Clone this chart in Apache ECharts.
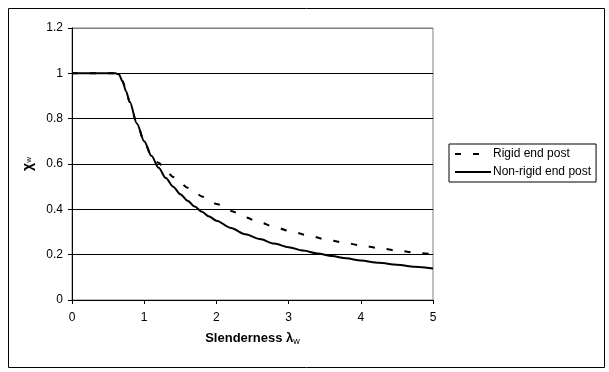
<!DOCTYPE html>
<html><head><meta charset="utf-8">
<script src="https://cdn.jsdelivr.net/npm/echarts@6/dist/echarts.min.js"></script>
<style>html,body{margin:0;padding:0;background:#fff}#c{width:609px;height:372px}</style>
</head><body><div id="c"></div>
<script>
// Non-rigid end post (solid)
var lambdaNR = [0, 0.5, 0.6, 0.65, 0.7, 0.75, 0.8, 0.9, 1.0, 1.1, 1.2, 1.3, 1.4, 1.5, 1.6, 1.7, 1.8, 1.9, 2.0, 2.2, 2.4, 2.6, 2.8, 3.0, 3.2, 3.4, 3.6, 3.8, 4.0, 4.25, 4.5, 4.75, 5.0];
var chiNR    = [1, 1, 1, 0.995, 0.965, 0.92, 0.873, 0.778, 0.70, 0.636, 0.583, 0.538, 0.50, 0.467, 0.438, 0.412, 0.389, 0.368, 0.35, 0.318, 0.29, 0.269, 0.249, 0.233, 0.218, 0.205, 0.194, 0.184, 0.174, 0.164, 0.156, 0.147, 0.139];
// Rigid end post (dashed)
var lambdaR = [0, 0.5, 0.6, 0.65, 0.7, 0.75, 0.8, 0.9, 1.0, 1.1, 1.2, 1.3, 1.4, 1.5, 1.6, 1.7, 1.8, 1.9, 2.0, 2.2, 2.4, 2.6, 2.8, 3.0, 3.25, 3.5, 3.75, 4.0, 4.25, 4.5, 4.75, 5.0];
var chiR    = [1, 1, 1, 0.995, 0.965, 0.92, 0.873, 0.778, 0.70, 0.638, 0.605, 0.573, 0.543, 0.517, 0.495, 0.475, 0.457, 0.44, 0.424, 0.393, 0.365, 0.342, 0.323, 0.306, 0.287, 0.269, 0.254, 0.241, 0.229, 0.218, 0.209, 0.201];
var xTicks = [0, 1, 2, 3, 4, 5];
var yTicks = [0, 0.2, 0.4, 0.6, 0.8, 1, 1.2];
var seriesNames = ['Rigid end post', 'Non-rigid end post'];

function pairs(xs, ys) { return xs.map(function (x, i) { return [x, ys[i]]; }); }

var font = 'Arial, "Liberation Sans", sans-serif';
var chart = echarts.init(document.getElementById('c'), null, {renderer: 'canvas'});
chart.setOption({
  backgroundColor: '#fff',
  animation: false,
  textStyle: {fontFamily: font, color: '#000'},
  graphic: {elements: [{
    type: 'rect', left: 6, top: 6, z: 0, silent: true,
    shape: {x: 0, y: 0, width: 596, height: 359},
    style: {fill: null, stroke: '#000', lineWidth: 1}
  }]},
  grid: {left: 72, right: 176, top: 28, bottom: 72, show: true, borderColor: '#808080', borderWidth: 1, backgroundColor: 'transparent'},
  legend: {
    orient: 'vertical', left: 449, top: 144,
    padding: [4, 5, 4, 5], itemGap: 6,
    itemWidth: 36, itemHeight: 14,
    borderColor: '#000', borderWidth: 1, backgroundColor: '#fff',
    itemStyle: {opacity: 0},
    textStyle: {fontFamily: font, fontSize: 12, color: '#000', padding: [0, 0, 0, -3]},
    data: seriesNames
  },
  xAxis: {
    type: 'value', min: xTicks[0], max: xTicks[xTicks.length - 1], interval: 1,
    name: '{b|Slenderness λ}{s|w}', nameLocation: 'middle', nameGap: 31,
    nameTextStyle: {rich: {
      b: {fontFamily: font, fontSize: 13, fontWeight: 'bold', color: '#000'},
      s: {fontFamily: font, fontSize: 9, color: '#000', verticalAlign: 'bottom', padding: [6, 0, 0, 0]}
    }},
    axisLine: {show: true, lineStyle: {color: '#000', width: 1}},
    axisTick: {show: true, inside: false, length: 4, lineStyle: {color: '#000'}},
    axisLabel: {fontFamily: font, fontSize: 12, color: '#000', margin: 12},
    splitLine: {show: false}
  },
  yAxis: {
    type: 'value', min: yTicks[0], max: yTicks[yTicks.length - 1], interval: 0.2,
    name: '{b|χ}{s|w}', nameLocation: 'middle', nameGap: 34, nameRotate: 90,
    nameTextStyle: {rich: {
      b: {fontFamily: font, fontSize: 14, fontWeight: 'bold', color: '#000'},
      s: {fontFamily: font, fontSize: 8, color: '#000'}
    }},
    axisLine: {show: true, lineStyle: {color: '#000', width: 1}},
    axisTick: {show: true, inside: false, length: 4, lineStyle: {color: '#000'}},
    axisLabel: {fontFamily: font, fontSize: 12, color: '#000', margin: 9},
    splitLine: {show: true, lineStyle: {color: ['#000', '#000', '#000', '#000', '#000', '#000', '#808080'], width: 1}}
  },
  series: [
    {
      name: seriesNames[0], type: 'line', data: pairs(lambdaR, chiR),
      showSymbol: false, symbol: 'none', smooth: 0.3, smoothMonotone: 'x', z: 2,
      lineStyle: {color: '#000', width: 2, type: [6, 12]},
      itemStyle: {color: '#000'}
    },
    {
      name: seriesNames[1], type: 'line', data: pairs(lambdaNR, chiNR),
      showSymbol: false, symbol: 'none', smooth: 0.3, smoothMonotone: 'x', z: 3,
      lineStyle: {color: '#000', width: 2, type: 'solid'},
      itemStyle: {color: '#000'}
    }
  ]
});
</script></body></html>
